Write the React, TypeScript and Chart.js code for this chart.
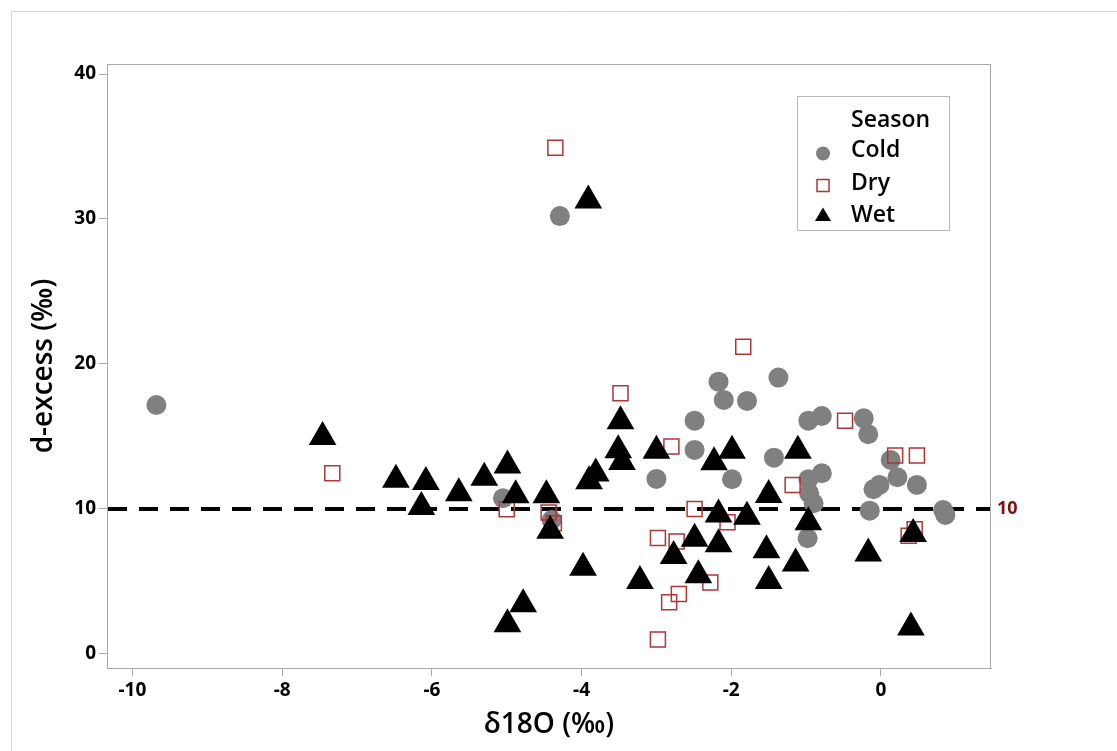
import React, { useEffect, useRef } from "react";
import { Chart, registerables } from "chart.js";

Chart.register(...registerables);

// ---- Data ----
const SERIES_NAMES = ["Cold", "Dry", "Wet"];
const LEGEND_TITLE = "Season";
const X_TITLE = "δ18O (‰)";
const Y_TITLE = "d-excess (‰)";

const coldX = [-9.68, -4.29, -5.05, -4.40, -3.00, -2.17, -1.37, -2.10, -1.79, -2.49, -2.49, -1.43, -1.99, -0.97, -0.79, -0.23, -0.17, 0.13, 0.22, 0.48, -0.79, -0.97, -0.02, -0.10, -0.96, -0.90, -0.15, 0.83, 0.86, -0.98];
const coldY = [17.17, 30.2, 10.74, 9.24, 12.07, 18.78, 19.06, 17.52, 17.45, 16.09, 14.07, 13.54, 12.05, 16.09, 16.41, 16.25, 15.15, 13.38, 12.19, 11.66, 12.46, 12.05, 11.66, 11.36, 11.08, 10.39, 9.88, 9.93, 9.59, 7.98];

const dryX = [-4.35, -7.33, -5.00, -4.44, -4.37, -3.48, -2.98, -2.98, -1.84, -2.80, -1.18, -2.49, -2.05, -2.73, -2.28, -2.70, -2.83, -0.48, 0.19, 0.48, 0.45, 0.37];
const dryY = [34.92, 12.46, 9.98, 9.75, 9.01, 17.98, 8.0, 1.0, 21.19, 14.3, 11.66, 10.0, 9.08, 7.75, 4.92, 4.14, 3.56, 16.09, 13.68, 13.68, 8.6, 8.16];

const wetX = [-7.46, -6.48, -6.08, -6.14, -5.64, -5.30, -4.99, -4.88, -4.47, -4.42, -3.91, -3.48, -3.51, -3.46, -3.81, -3.90, -3.00, -3.98, -3.22, -4.78, -4.99, -1.99, -2.23, -1.11, -1.50, -2.17, -1.79, -2.49, -2.17, -2.77, -1.53, -1.14, -2.44, -1.50, -0.97, -0.17, 0.43, 0.40];
const wetY = [14.97, 12.02, 11.86, 10.14, 11.08, 12.15, 12.99, 10.94, 10.94, 8.5, 31.27, 16.05, 14.05, 13.24, 12.44, 11.91, 14.02, 5.95, 5.03, 3.43, 2.05, 14.02, 13.22, 14.02, 10.97, 9.61, 9.47, 7.95, 7.56, 6.76, 7.15, 6.23, 5.43, 5.03, 9.08, 6.92, 8.28, 1.82];

const X_TICKS = [-10, -8, -6, -4, -2, 0];
const Y_TICKS = [0, 10, 20, 30, 40];
const X_MIN = -10.34;
const X_MAX = 1.47;
const Y_MIN = -0.97;
const Y_MAX = 40.69;
const REF_VALUE = 10;

// ---- Styles ----
const COLD_COLOR = "#808080";
const DRY_COLOR = "#b03535";
const WET_COLOR = "#000000";
const AXIS_COLOR = "#a8a8a8";
const FONT = "'Noto Sans', 'Open Sans', sans-serif";
const TITLE_FONT = "'Open Sans', 'Noto Sans', sans-serif";

const toPoints = (xs: number[], ys: number[]) => xs.map((x, i) => ({ x, y: ys[i] }));

const decorPlugin = {
  id: "decor",
  beforeDraw(chart: any) {
    const ctx = chart.ctx;
    ctx.save();
    ctx.fillStyle = "#ffffff";
    ctx.fillRect(0, 0, chart.width, chart.height);
    ctx.strokeStyle = "#d6d6d6";
    ctx.lineWidth = 1;
    ctx.beginPath();
    ctx.moveTo(11.5, chart.height);
    ctx.lineTo(11.5, 11.5);
    ctx.lineTo(chart.width, 11.5);
    ctx.stroke();
    ctx.restore();
  },
  beforeDatasetsDraw(chart: any) {
    const { ctx, chartArea: a, scales } = chart;
    ctx.save();
    ctx.strokeStyle = AXIS_COLOR;
    ctx.lineWidth = 1;
    ctx.strokeRect(Math.round(a.left) + 0.5, Math.round(a.top) + 0.5, Math.round(a.right - a.left) - 1, Math.round(a.bottom - a.top));
    const y = scales.y.getPixelForValue(REF_VALUE);
    ctx.setLineDash([19, 12]);
    ctx.lineWidth = 4;
    ctx.strokeStyle = "#000";
    ctx.beginPath();
    ctx.moveTo(a.left + 1, y);
    ctx.lineTo(a.right - 1, y);
    ctx.stroke();
    ctx.restore();
  },
  afterDraw(chart: any) {
    const { ctx, chartArea: a, scales } = chart;
    ctx.save();
    // reference line label
    const y = scales.y.getPixelForValue(REF_VALUE);
    ctx.fillStyle = "#7d1212";
    ctx.font = `bold 18px ${FONT}`;
    ctx.textAlign = "left";
    ctx.textBaseline = "middle";
    ctx.fillText(String(REF_VALUE), a.right + 6, y);

    // legend
    const bx = 797.5, by = 96.5, bw = 152, bh = 134;
    ctx.strokeStyle = "#b8b8b8";
    ctx.lineWidth = 1;
    ctx.strokeRect(bx, by, bw, bh);
    ctx.fillStyle = "#000";
    ctx.font = `600 23px ${TITLE_FONT}`;
    ctx.textBaseline = "alphabetic";
    const tx = 851;
    ctx.fillText(LEGEND_TITLE, tx, 127);
    const rows = [157, 190, 222];
    SERIES_NAMES.forEach((name, i) => ctx.fillText(name, tx, rows[i]));
    // symbols
    const sx = 823;
    ctx.fillStyle = COLD_COLOR;
    ctx.beginPath();
    ctx.arc(sx, 153.5, 7, 0, Math.PI * 2);
    ctx.fill();
    ctx.strokeStyle = DRY_COLOR;
    ctx.lineWidth = 1.5;
    ctx.strokeRect(sx - 6, 185.5 - 6, 12, 12);
    ctx.fillStyle = WET_COLOR;
    ctx.beginPath();
    ctx.moveTo(sx, 207.5);
    ctx.lineTo(sx + 8, 221);
    ctx.lineTo(sx - 8, 221);
    ctx.closePath();
    ctx.fill();
    ctx.restore();
  },
};

export default function App() {
  const ref = useRef<HTMLCanvasElement>(null);
  useEffect(() => {
    if (!ref.current) return;
    const tickFont = { family: FONT, size: 19, weight: "bold" as const };
    const titleFont = { family: TITLE_FONT, size: 28, weight: 600 as any };
    const chart = new Chart(ref.current, {
      type: "scatter",
      data: {
        datasets: [
          {
            label: SERIES_NAMES[0],
            data: toPoints(coldX, coldY),
            pointStyle: "circle",
            pointRadius: 10,
            backgroundColor: COLD_COLOR,
            borderColor: COLD_COLOR,
            borderWidth: 0,
            order: 3,
          },
          {
            label: SERIES_NAMES[1],
            data: toPoints(dryX, dryY),
            pointStyle: "rect",
            pointRadius: 10.6,
            backgroundColor: "rgba(0,0,0,0)",
            borderColor: DRY_COLOR,
            borderWidth: 1.5,
            order: 2,
          },
          {
            label: SERIES_NAMES[2],
            data: toPoints(wetX, wetY),
            pointStyle: "triangle",
            pointRadius: 16,
            backgroundColor: WET_COLOR,
            borderColor: WET_COLOR,
            borderWidth: 0,
            order: 1,
          },
        ],
      },
      options: {
        responsive: false,
        animation: false,
        devicePixelRatio: 1,
        events: [],
        layout: { padding: { left: 0, top: 64, right: 126, bottom: 0 } },
        plugins: { legend: { display: false }, tooltip: { enabled: false } },
        scales: {
          x: {
            type: "linear",
            min: X_MIN,
            max: X_MAX,
            afterBuildTicks: (s: any) => {
              s.ticks = X_TICKS.map((v) => ({ value: v }));
            },
            afterFit: (s: any) => {
              s.height = 83;
            },
            grid: { drawOnChartArea: false, drawTicks: true, tickLength: 8, color: AXIS_COLOR, lineWidth: 1 },
            border: { display: true, color: AXIS_COLOR, width: 1 },
            ticks: { color: "#000", font: tickFont, padding: 3, maxRotation: 0, autoSkip: false, callback: (v: any) => String(v) },
            title: { display: true, text: X_TITLE, color: "#000", font: titleFont, padding: { top: 0, bottom: 9 } },
          },
          y: {
            type: "linear",
            min: Y_MIN,
            max: Y_MAX,
            afterBuildTicks: (s: any) => {
              s.ticks = Y_TICKS.map((v) => ({ value: v }));
            },
            afterFit: (s: any) => {
              s.width = 107;
            },
            grid: { drawOnChartArea: false, drawTicks: true, tickLength: 8, color: AXIS_COLOR, lineWidth: 1 },
            border: { display: true, color: AXIS_COLOR, width: 1 },
            ticks: { color: "#000", font: tickFont, padding: 3, autoSkip: false, callback: (v: any) => String(v) },
            title: { display: true, text: Y_TITLE, color: "#000", font: titleFont, padding: { top: 27, bottom: 0 } },
          },
        },
      },
      plugins: [decorPlugin],
    } as any);
    return () => chart.destroy();
  }, []);
  return (
    <div style={{ position: "absolute", left: 0, top: 0, width: 1117, height: 751, background: "#fff" }}>
      <canvas ref={ref} width={1117} height={751} style={{ display: "block", width: 1117, height: 751 }} />
    </div>
  );
}
